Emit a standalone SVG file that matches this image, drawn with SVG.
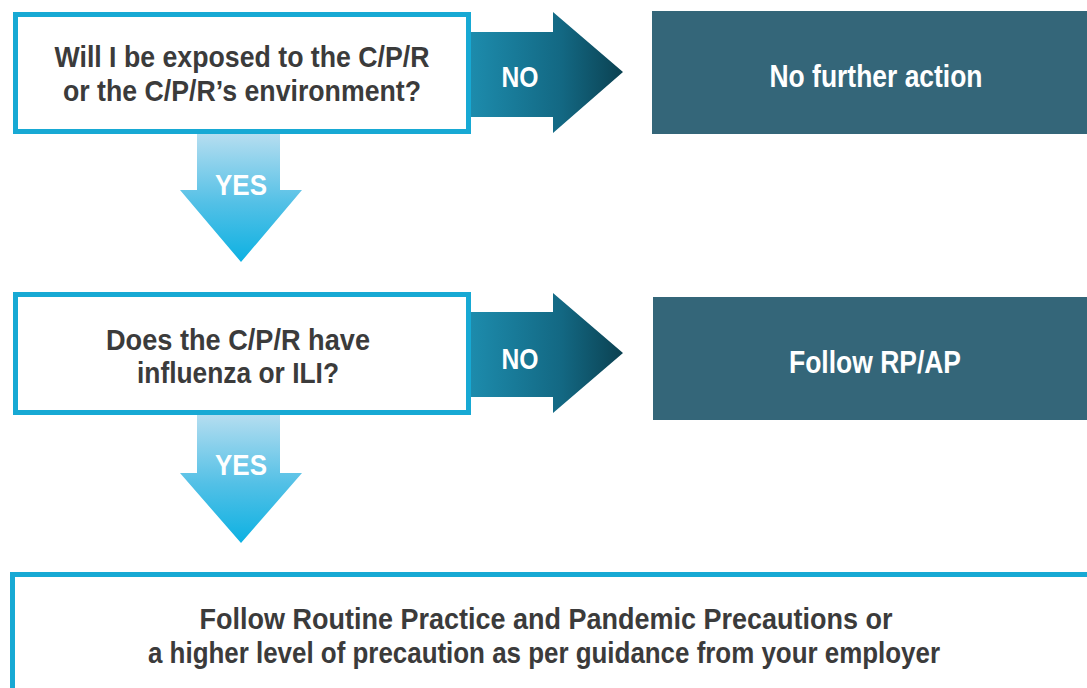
<svg xmlns="http://www.w3.org/2000/svg" width="1087" height="688" viewBox="0 0 1087 688">
<defs>
<linearGradient id="gNo" x1="0" y1="0" x2="1" y2="0">
<stop offset="0" stop-color="#1d8cad"/>
<stop offset="0.6" stop-color="#136883"/>
<stop offset="1" stop-color="#0b4151"/>
</linearGradient>
<linearGradient id="gYes" x1="0" y1="0" x2="0" y2="1">
<stop offset="0" stop-color="#b7def0"/>
<stop offset="0.55" stop-color="#52c0e6"/>
<stop offset="1" stop-color="#0db1e2"/>
</linearGradient>
<style>
.qbox{fill:#ffffff;stroke:#17a9d4;stroke-width:5}
.abox{fill:#346679}
.qt{font-family:"Liberation Sans",Arial,sans-serif;font-weight:bold;font-size:30px;fill:#3b3b3b;text-anchor:middle}
.at{font-family:"Liberation Sans",Arial,sans-serif;font-weight:bold;font-size:32px;fill:#ffffff;text-anchor:middle}
.lt{font-family:"Liberation Sans",Arial,sans-serif;font-weight:bold;font-size:30px;fill:#ffffff;text-anchor:middle}
.bt{font-family:"Liberation Sans",Arial,sans-serif;font-weight:bold;font-size:30px;fill:#3b3b3b;text-anchor:middle}
</style>
</defs>
<rect width="1087" height="688" fill="#ffffff"/>

<g id="connectors">
<g id="no1">
<polygon points="469,32 553,32 553,12 623,72 553,133 553,117 469,117" fill="url(#gNo)"/>
<text class="lt" x="520" y="87" textLength="37" lengthAdjust="spacingAndGlyphs">NO</text>
</g>
<g id="no2">
<polygon points="469,312 553,312 553,293 623,353 553,413 553,397 469,397" fill="url(#gNo)"/>
<text class="lt" x="520" y="369" textLength="37" lengthAdjust="spacingAndGlyphs">NO</text>
</g>
<g id="yes1">
<polygon points="197,133 280,133 280,190 302,190 241,262 180,190 197,190" fill="url(#gYes)"/>
<text class="lt" x="241" y="195" textLength="52" lengthAdjust="spacingAndGlyphs">YES</text>
</g>
<g id="yes2">
<polygon points="197,413 280,413 280,473 302,473 241,543 180,473 197,473" fill="url(#gYes)"/>
<text class="lt" x="241" y="475" textLength="52" lengthAdjust="spacingAndGlyphs">YES</text>
</g>
</g>

<g id="q1">
<rect class="qbox" x="15.5" y="14.5" width="453" height="117"/>
<text class="qt" x="242" y="67" textLength="375" lengthAdjust="spacingAndGlyphs">Will I be exposed to the C/P/R</text>
<text class="qt" x="242" y="101" textLength="358" lengthAdjust="spacingAndGlyphs">or the C/P/R’s environment?</text>
</g>

<g id="a1">
<rect class="abox" x="652" y="11" width="440" height="123"/>
<text class="at" x="876" y="87" textLength="213" lengthAdjust="spacingAndGlyphs">No further action</text>
</g>

<g id="q2">
<rect class="qbox" x="15.5" y="294.5" width="453" height="118"/>
<text class="qt" x="238" y="350" textLength="264" lengthAdjust="spacingAndGlyphs">Does the C/P/R have</text>
<text class="qt" x="238" y="383" textLength="202" lengthAdjust="spacingAndGlyphs">influenza or ILI?</text>
</g>

<g id="a2">
<rect class="abox" x="653" y="297" width="440" height="123"/>
<text class="at" x="875" y="373" textLength="172" lengthAdjust="spacingAndGlyphs">Follow RP/AP</text>
</g>

<g id="final">
<rect class="qbox" x="12.5" y="574.5" width="1100" height="200"/>
<text class="bt" x="546" y="629" textLength="693" lengthAdjust="spacingAndGlyphs">Follow Routine Practice and Pandemic Precautions or</text>
<text class="bt" x="544" y="663" textLength="792" lengthAdjust="spacingAndGlyphs">a higher level of precaution as per guidance from your employer</text>
</g>
</svg>
